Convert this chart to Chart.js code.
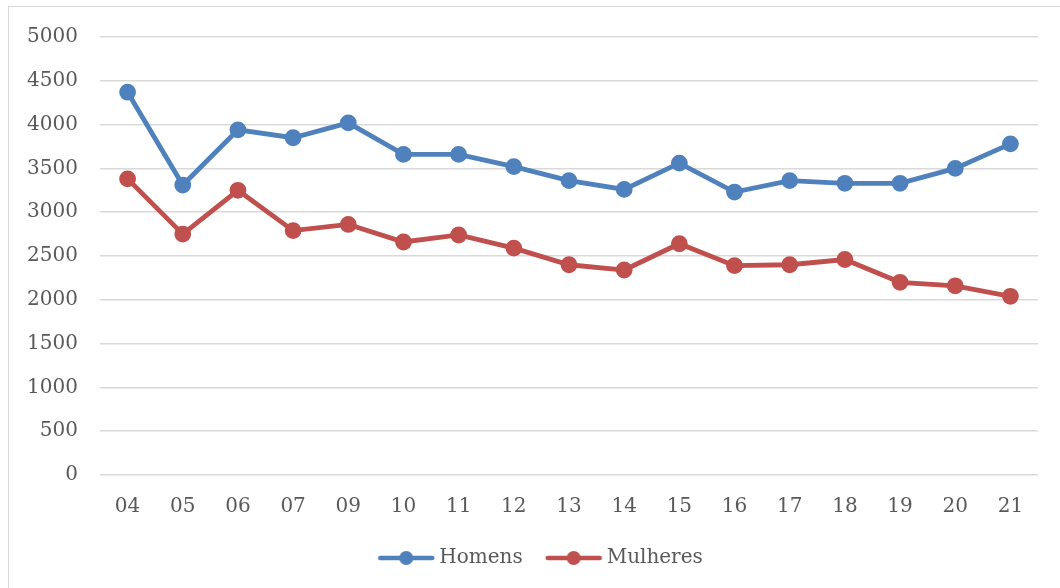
<!DOCTYPE html>
<html>
<head>
<meta charset="utf-8">
<script src="https://cdn.jsdelivr.net/npm/chart.js@4"></script>
<style>
  html, body { margin: 0; padding: 0; background: #fff; overflow: hidden; }
  #frame { position: absolute; left: 8px; top: 6px; width: 1100px; height: 640px; border-left: 1.5px solid #d9d9d9; border-top: 1.5px solid #d9d9d9; }
  #wrap { position: absolute; left: 0; top: 0; width: 1060px; height: 588px; }
</style>
</head>
<body>
<div id="frame"></div>
<div id="wrap"><canvas id="chart"></canvas></div>
<script>
// Year labels (two digits, 2008 missing in the source)
const years = ['04', '05', '06', '07', '09', '10', '11', '12', '13', '14', '15', '16', '17', '18', '19', '20', '21'];
const homens = [4370, 3310, 3940, 3850, 4020, 3660, 3660, 3520, 3360, 3260, 3560, 3230, 3360, 3330, 3330, 3500, 3780];
const mulheres = [3380, 2750, 3250, 2790, 2860, 2660, 2740, 2590, 2400, 2340, 2640, 2390, 2400, 2460, 2200, 2160, 2040];

const BLUE = '#4f81bd';
const RED = '#c0504d';
const TEXT = '#595959';
const FONT = 'DejaVu Serif';

// legend marker: a short line with a dot in the middle
function legendMarker(color) {
  const c = document.createElement('canvas');
  c.width = 58; c.height = 16;
  const g = c.getContext('2d');
  g.strokeStyle = color;
  g.lineWidth = 4.5;
  g.lineCap = 'round';
  g.beginPath(); g.moveTo(3, 8); g.lineTo(55, 8); g.stroke();
  g.fillStyle = color;
  g.beginPath(); g.arc(29, 8, 7, 0, Math.PI * 2); g.fill();
  return c;
}

// nudge the legend to the right, like the original
const shiftLegend = {
  id: 'shiftLegend',
  afterLayout(chart) {
    chart.legend.left += 24;
    chart.legend.right += 24;
  }
};

new Chart(document.getElementById('chart'), {
  type: 'line',
  data: {
    labels: years,
    datasets: [
      { label: 'Homens', data: homens, borderColor: BLUE, backgroundColor: BLUE,
        borderWidth: 4.8, pointRadius: 6, pointHoverRadius: 6, tension: 0 },
      { label: 'Mulheres', data: mulheres, borderColor: RED, backgroundColor: RED,
        borderWidth: 4.8, pointRadius: 6, pointHoverRadius: 6, tension: 0 }
    ]
  },
  options: {
    responsive: true,
    maintainAspectRatio: false,
    animation: false,
    layout: { padding: { top: 37, right: 22, left: 0, bottom: 10 } },
    scales: {
      x: {
        offset: true,
        grid: { display: false },
        border: { display: false },
        ticks: { color: TEXT, font: { family: FONT, size: 20 }, padding: 12, maxRotation: 0 },
        afterFit: s => { s.height = 45; }
      },
      y: {
        min: 0, max: 5000,
        grid: { color: '#d9d9d9', lineWidth: 1.5, drawTicks: false },
        border: { display: false },
        ticks: { stepSize: 500, color: TEXT, font: { family: FONT, size: 20 }, padding: 22,
          callback: v => String(v) },
        afterFit: s => { s.width = 100; }
      }
    },
    plugins: {
      legend: {
        position: 'bottom',
        labels: {
          color: TEXT,
          font: { family: FONT, size: 20 },
          usePointStyle: true,
          pointStyleWidth: 46,
          padding: 28,
          generateLabels: chart => chart.data.datasets.map((ds, i) => ({
            text: ds.label,
            fontColor: TEXT,
            pointStyle: legendMarker(ds.borderColor),
            datasetIndex: i,
            hidden: false,
            lineWidth: 0,
            strokeStyle: 'transparent',
            fillStyle: ds.borderColor
          }))
        }
      },
      tooltip: { enabled: false }
    }
  },
  plugins: [shiftLegend]
});
</script>
</body>
</html>
